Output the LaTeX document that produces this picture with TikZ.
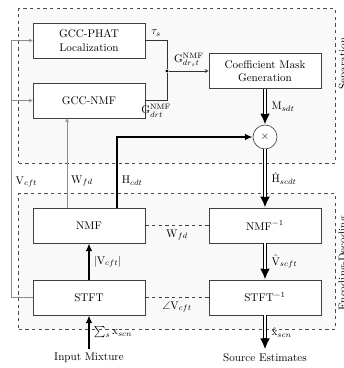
\documentclass[tikz,border=0pt]{standalone}
\usepackage{amsmath}
\usepackage{amssymb}
\usepackage{xcolor}
\usepackage{tikz}
\usetikzlibrary{shapes.geometric, arrows.meta, positioning, fit, backgrounds}

\begin{document}
\begin{tikzpicture}[
    node distance=54pt,
    block/.style={rectangle, minimum width=100.8pt, minimum height=31.5pt, text centered, align=center, draw=black!75, fill=white, line width=0.6pt},
    product/.style={circle, minimum size=21.6pt, inner sep=0pt, draw=black!75, fill=white, line width=0.6pt},
    junction/.style={circle, fill=black, inner sep=0pt, minimum size=3pt},
    region/.style={rectangle, draw=black!70, dashed, fill=gray!5, inner sep=12.6pt, line width=0.6pt},
    link/.style={draw=black!80, line width=0.6pt},
    arrow/.style={link, ->, >=stealth},
    feed/.style={draw=black!45, line width=0.6pt, ->, >=stealth},
    share/.style={draw=black!75, dashed, line width=0.6pt},
    thickarrow/.style={line width=2pt, -{Latex[length=7pt,width=6pt]}},
    dbl/.style={line width=3.2pt, -{Latex[length=10pt,width=9pt]}, postaction={draw=white, line width=1.2pt, -, shorten >=10pt}}
]
\useasboundingbox (-80.1pt,36.45pt) rectangle (229.5pt,-294.75pt);

\node (phat) [block] {GCC-PHAT\\Localization};
\node (gccnmf) [block, below of=phat] {GCC-NMF};
\node (mask) [block, right of=phat, xshift=104.4pt, yshift=-27.45pt] {Coefficient Mask\\Generation};
\node (mult) [product, below of=mask, yshift=-5.4pt] {$\times$};
\node (jn) [junction, left of=mask, xshift=-34.2pt] {};
\node (nmf) [block, below of=gccnmf, yshift=-58.5pt] {NMF};
\node (nmfinv) [block, right of=nmf, xshift=104.4pt] {NMF$^{-1}$};
\node (stft) [block, below of=nmf, yshift=-10.8pt] {STFT};
\node (stftinv) [block, right of=stft, xshift=104.4pt] {STFT$^{-1}$};
\node (input) [below of=stft] {Input Mixture};
\node (output) [below of=stftinv] {Source Estimates};

% dashed regions behind the blocks
\begin{scope}[on background layer]
\node (sepregion) [region, fit=(phat) (gccnmf) (mask) (mult)] {};
\node (encregion) [region, fit=(nmf) (nmfinv) (stft) (stftinv)] {};
\end{scope}
\node (seplabel) [rotate=90] at ([xshift=7.2pt, yshift=20.25pt]sepregion.east) {Separation};
\node (enclabel) [rotate=90] at ([xshift=7.2pt, yshift=-1.8pt]encregion.east) {Encoding-Decoding};

% separation
\draw [link] (phat.east) -| node[pos=0.25, above] {$\tau_s$} (jn);
\draw [link] (gccnmf.east) -| node[pos=0.25, below] {$\mathrm{G}^{\mathrm{NMF}}_{drt}$} (jn);
\draw [arrow] (jn) -- node[above] {$\mathrm{G}^{\mathrm{NMF}}_{dr_st}$} (mask);
\draw [dbl] (mask) -- node[right, xshift=1pt] {$\mathrm{M}_{sdt}$} (mult);
\draw [thickarrow] ([xshift=25.2pt]nmf.north) |- node[pos=0.19, right] {$\mathrm{H}_{cdt}$} (mult);
\draw [feed] ([xshift=-19.8pt]nmf.north) -- node[pos=0.3, right] {$\mathrm{W}_{fd}$} ([xshift=-19.8pt]gccnmf.south);
\draw [feed] (stft.west) -- ++(-18.9pt,0) coordinate (fb) |- node[pos=0.225, right] {$\mathrm{V}_{cft}$} (phat.west);
\draw [feed] (fb) |- (gccnmf.west);

% encoding-decoding
\draw [dbl] (mult) -- node[right, xshift=1pt] {$\hat{\mathrm{H}}_{scdt}$} (nmfinv);
\draw [dbl] (nmfinv) -- node[right, xshift=1pt] {$\hat{\mathrm{V}}_{scft}$} (stftinv);
\draw [dbl] (stftinv) -- node[right, xshift=1pt] {$\hat{\mathrm{x}}_{scn}$} (output);
\draw [thickarrow] (stft) -- node[right] {$|\mathrm{V}_{cft}|$} (nmf);
\draw [thickarrow] (input) -- node[right] {$\sum_s \mathrm{x}_{scn}$} (stft);
\draw [share] (nmf) -- node[below] {$\mathrm{W}_{fd}$} (nmfinv);
\draw [share] (stft) -- node[below] {$\angle\mathrm{V}_{cft}$} (stftinv);
\end{tikzpicture}
\end{document}
